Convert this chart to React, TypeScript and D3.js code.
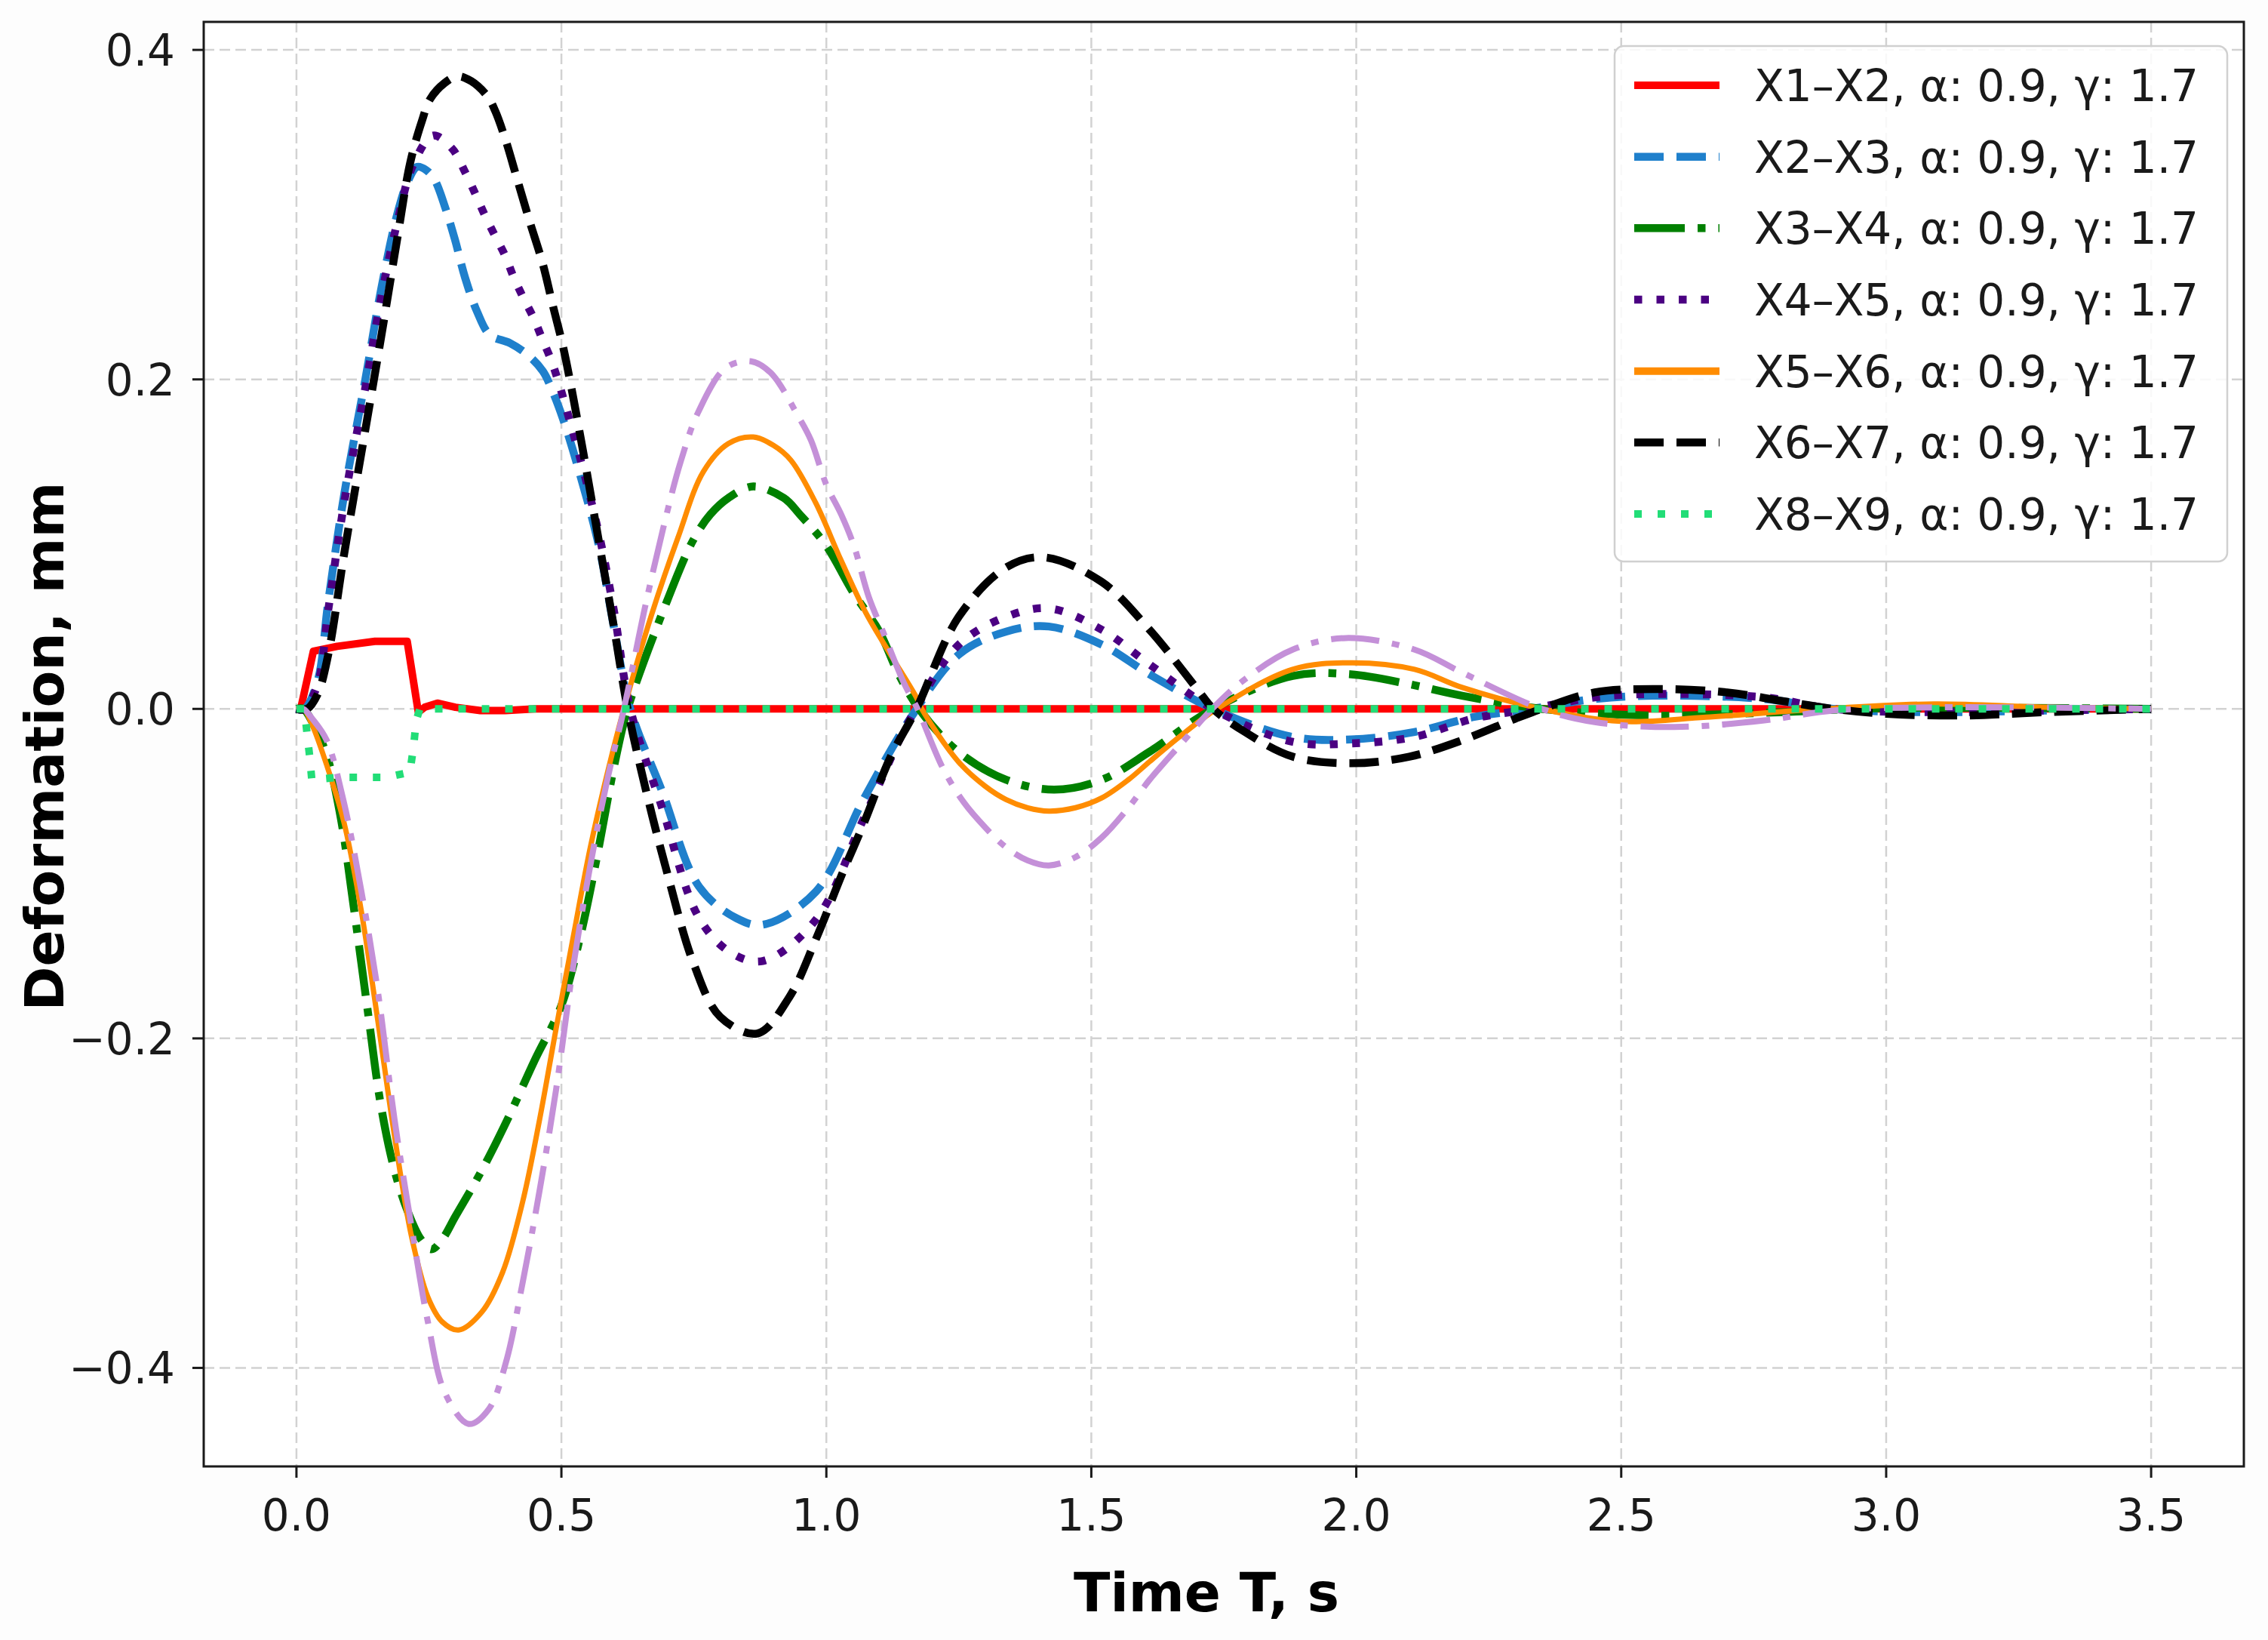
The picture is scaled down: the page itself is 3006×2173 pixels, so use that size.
import React from "react";
import * as d3 from "d3";

type Pt = [number, number];

// series: [time s, deformation mm]
const X1X2: Pt[] = [[0, 0], [0.008, 0], [0.032, 0.035], [0.077, 0.038], [0.148, 0.041], [0.209, 0.041], [0.23, -0.002], [0.242, 0.001], [0.266, 0.0035], [0.3, 0.001], [0.347, -0.001], [0.394, -0.001], [0.45, 0], [3.5, 0]];
const X2X3: Pt[] = [[0, 0], [0.015, 0], [0.04, 0.017], [0.06, 0.065], [0.09, 0.13], [0.13, 0.2], [0.16, 0.255], [0.19, 0.3], [0.21, 0.32], [0.228, 0.329], [0.245, 0.327], [0.261, 0.321], [0.28, 0.305], [0.299, 0.285], [0.318, 0.262], [0.341, 0.241], [0.365, 0.227], [0.403, 0.222], [0.436, 0.215], [0.465, 0.205], [0.483, 0.193], [0.503, 0.176], [0.53, 0.148], [0.57, 0.1], [0.6, 0.048], [0.63, 0], [0.69, -0.05], [0.76, -0.108], [0.83, -0.127], [0.88, -0.131], [0.98, -0.111], [1.07, -0.055], [1.16, -0.005], [1.25, 0.033], [1.34, 0.047], [1.42, 0.05], [1.52, 0.039], [1.61, 0.021], [1.73, 0], [1.88, -0.017], [1.99, -0.0185], [2.11, -0.014], [2.22, -0.005], [2.33, 0], [2.45, 0.006], [2.56, 0.008], [2.77, 0.006], [2.9, 0], [3.1, -0.002], [3.3, -0.001], [3.5, 0]];
const X3X4: Pt[] = [[0, 0], [0.013, 0], [0.03, -0.008], [0.057, -0.028], [0.083, -0.065], [0.108, -0.12], [0.134, -0.182], [0.159, -0.24], [0.185, -0.28], [0.21, -0.305], [0.235, -0.322], [0.255, -0.328], [0.275, -0.322], [0.3, -0.308], [0.35, -0.28], [0.4, -0.248], [0.45, -0.213], [0.5, -0.18], [0.535, -0.139], [0.567, -0.09], [0.6, -0.034], [0.625, 0], [0.7, 0.066], [0.748, 0.102], [0.781, 0.118], [0.815, 0.128], [0.862, 0.135], [0.92, 0.128], [0.95, 0.118], [1.0, 0.099], [1.05, 0.071], [1.1, 0.047], [1.135, 0.022], [1.175, 0], [1.249, -0.026], [1.339, -0.043], [1.43, -0.049], [1.52, -0.043], [1.61, -0.026], [1.73, 0], [1.88, 0.02], [1.99, 0.021], [2.1, 0.015], [2.2, 0.008], [2.35, 0], [2.55, -0.004], [2.8, -0.002], [3.0, 0.0005], [3.5, 0]];
const X4X5: Pt[] = [[0, 0], [0.015, 0], [0.04, 0.015], [0.06, 0.06], [0.09, 0.125], [0.13, 0.195], [0.16, 0.25], [0.19, 0.295], [0.22, 0.33], [0.258, 0.348], [0.294, 0.34], [0.318, 0.326], [0.337, 0.313], [0.355, 0.3], [0.375, 0.287], [0.394, 0.275], [0.41, 0.262], [0.429, 0.249], [0.448, 0.237], [0.462, 0.226], [0.479, 0.213], [0.493, 0.2], [0.52, 0.17], [0.547, 0.138], [0.575, 0.1], [0.6, 0.058], [0.63, 0], [0.69, -0.06], [0.76, -0.127], [0.82, -0.148], [0.88, -0.153], [0.98, -0.128], [1.07, -0.067], [1.16, -0.005], [1.25, 0.039], [1.34, 0.056], [1.42, 0.061], [1.52, 0.048], [1.61, 0.027], [1.73, 0], [1.88, -0.02], [1.99, -0.021], [2.11, -0.017], [2.22, -0.006], [2.33, 0], [2.45, 0.007], [2.56, 0.009], [2.77, 0.007], [2.9, 0], [3.1, -0.002], [3.3, -0.001], [3.5, 0]];
const X5X6: Pt[] = [[0, 0], [0.013, 0], [0.03, -0.01], [0.057, -0.034], [0.089, -0.068], [0.121, -0.12], [0.153, -0.188], [0.185, -0.259], [0.217, -0.32], [0.248, -0.357], [0.275, -0.372], [0.306, -0.377], [0.35, -0.366], [0.389, -0.342], [0.427, -0.299], [0.459, -0.249], [0.49, -0.194], [0.522, -0.139], [0.554, -0.085], [0.586, -0.04], [0.618, 0], [0.67, 0.057], [0.72, 0.104], [0.768, 0.144], [0.815, 0.161], [0.862, 0.165], [0.9, 0.16], [0.933, 0.151], [0.98, 0.125], [1.028, 0.09], [1.075, 0.058], [1.123, 0.032], [1.17, 0.007], [1.18, 0], [1.249, -0.032], [1.3, -0.047], [1.339, -0.055], [1.38, -0.06], [1.42, -0.062], [1.47, -0.06], [1.52, -0.054], [1.57, -0.043], [1.61, -0.032], [1.67, -0.016], [1.737, 0], [1.88, 0.024], [1.99, 0.028], [2.11, 0.024], [2.2, 0.013], [2.35, 0], [2.5, -0.0076], [2.66, -0.005], [2.88, 0], [3.09, 0.003], [3.3, 0.001], [3.5, 0]];
const X6X7: Pt[] = [[0, 0], [0.02, 0], [0.04, 0.009], [0.06, 0.033], [0.09, 0.094], [0.125, 0.16], [0.16, 0.226], [0.19, 0.285], [0.215, 0.332], [0.237, 0.357], [0.252, 0.37], [0.28, 0.38], [0.304, 0.384], [0.33, 0.381], [0.36, 0.372], [0.375, 0.363], [0.394, 0.346], [0.417, 0.321], [0.44, 0.296], [0.465, 0.27], [0.483, 0.246], [0.503, 0.22], [0.517, 0.198], [0.54, 0.158], [0.57, 0.103], [0.6, 0.048], [0.625, 0], [0.66, -0.05], [0.7, -0.1], [0.75, -0.155], [0.8, -0.187], [0.87, -0.197], [0.93, -0.175], [0.98, -0.14], [1.03, -0.1], [1.07, -0.07], [1.12, -0.03], [1.17, 0], [1.25, 0.056], [1.34, 0.086], [1.41, 0.092], [1.52, 0.077], [1.61, 0.048], [1.7, 0.012], [1.73, 0], [1.79, -0.014], [1.88, -0.029], [1.99, -0.033], [2.1, -0.029], [2.2, -0.019], [2.3, -0.006], [2.35, 0], [2.45, 0.01], [2.57, 0.012], [2.7, 0.01], [2.8, 0.005], [2.9, 0], [3.0, -0.003], [3.15, -0.004], [3.3, -0.002], [3.5, 0]];
const X7X8: Pt[] = [[0, 0], [0.013, 0], [0.03, -0.006], [0.057, -0.019], [0.089, -0.056], [0.121, -0.108], [0.153, -0.17], [0.185, -0.249], [0.217, -0.314], [0.248, -0.372], [0.28, -0.415], [0.325, -0.434], [0.363, -0.425], [0.395, -0.397], [0.427, -0.348], [0.459, -0.292], [0.49, -0.231], [0.522, -0.157], [0.554, -0.096], [0.586, -0.044], [0.618, 0], [0.66, 0.065], [0.7, 0.12], [0.725, 0.15], [0.758, 0.18], [0.81, 0.207], [0.858, 0.211], [0.895, 0.204], [0.948, 0.177], [0.971, 0.163], [1.0, 0.136], [1.028, 0.118], [1.052, 0.099], [1.08, 0.068], [1.108, 0.046], [1.146, 0.016], [1.172, 0], [1.22, -0.036], [1.26, -0.057], [1.3, -0.072], [1.339, -0.084], [1.38, -0.092], [1.42, -0.095], [1.47, -0.09], [1.52, -0.078], [1.57, -0.06], [1.61, -0.043], [1.67, -0.021], [1.728, 0], [1.79, 0.018], [1.88, 0.036], [1.98, 0.043], [2.11, 0.036], [2.2, 0.022], [2.35, 0], [2.45, -0.008], [2.6, -0.011], [2.77, -0.007], [2.9, -0.001], [3.1, 0.001], [3.5, 0]];
const X8X9: Pt[] = [[0, 0], [0.015, 0], [0.02, -0.015], [0.025, -0.029], [0.029, -0.043], [0.08, -0.0415], [0.17, -0.0415], [0.214, -0.0385], [0.221, -0.023], [0.226, -0.007], [0.233, 0], [3.5, 0]];

const LABELS = ["X1–X2", "X2–X3", "X3–X4", "X4–X5", "X5–X6", "X6–X7", "X7–X8", "X8–X9"];
const PARAMS = ", α: 0.9, γ: 1.7";
const X_TICKS = [0, 0.5, 1.0, 1.5, 2.0, 2.5, 3.0, 3.5];
const Y_TICKS = [-0.4, -0.2, 0, 0.2, 0.4];

type Style = { color: string; width: number; dash: string; smooth: boolean; legend: boolean; legendWidth?: number };
const STYLES: Style[] = [
  { color: "#ff0000", width: 10, dash: "", smooth: false, legend: true },
  { color: "#1f80cc", width: 10.5, dash: "39 17", smooth: true, legend: true },
  { color: "#008000", width: 10.5, dash: "67 17 10.5 17", smooth: true, legend: true },
  { color: "#4b0082", width: 10.5, dash: "10.5 19", smooth: true, legend: true },
  { color: "#ff8c00", width: 7, dash: "", smooth: true, legend: true, legendWidth: 10 },
  { color: "#000000", width: 10.5, dash: "39 17", smooth: true, legend: true },
  { color: "#c490d8", width: 8, dash: "64 17 10 17", smooth: true, legend: false },
  { color: "#22dd77", width: 10, dash: "10 21", smooth: false, legend: true },
];
const SERIES = [X1X2, X2X3, X3X4, X4X5, X5X6, X6X7, X7X8, X8X9];

const W = 3006;
const H = 2173;
const FONT = "DejaVu Sans";

export default function App() {
  const x = d3.scaleLinear().domain([-0.175, 3.675]).range([270, 2974]);
  const y = d3.scaleLinear().domain([-0.4598, 0.417]).range([1943, 29]);
  const [x0, x1] = x.range();
  const [y0, y1] = y.range();

  const smoothLine = d3.line<Pt>().x((d) => x(d[0])).y((d) => y(d[1])).curve(d3.curveCatmullRom.alpha(0.5));
  const straightLine = d3.line<Pt>().x((d) => x(d[0])).y((d) => y(d[1]));
  const fmt = (v: number) => d3.format(".1f")(v).replace("-", "\u2212");

  const legendItems = STYLES.map((s, i) => ({ s, label: LABELS[i] + PARAMS })).filter((d) => d.s.legend);
  const legendRow = d3.scaleLinear().domain([0, legendItems.length - 1]).range([113, 681]);

  return (
    <svg width={W} height={H} style={{ position: "absolute", left: 0, top: 0, background: "#fff" }} fontFamily={FONT}>
      <defs>
        <clipPath id="plot">
          <rect x={x0} y={y1} width={x1 - x0} height={y0 - y1} />
        </clipPath>
      </defs>
      <rect width={W} height={H} fill="#fdfdfd" />
      <rect x={x0} y={y1} width={x1 - x0} height={y0 - y1} fill="#fff" />
      {/* grid */}
      <g stroke="#d2d2d2" strokeWidth={2.5} strokeDasharray="14 7">
        {X_TICKS.map((t) => (
          <line key={`gx${t}`} x1={x(t)} x2={x(t)} y1={y1} y2={y0} />
        ))}
        {Y_TICKS.map((t) => (
          <line key={`gy${t}`} x1={x0} x2={x1} y1={y(t)} y2={y(t)} />
        ))}
      </g>
      {/* series */}
      <g clipPath="url(#plot)" fill="none" strokeLinejoin="round">
        {SERIES.map((data, i) => {
          const s = STYLES[i];
          return (
            <path
              key={LABELS[i]}
              d={(s.smooth ? smoothLine(data) : straightLine(data)) ?? undefined}
              stroke={s.color}
              strokeWidth={s.width}
              strokeDasharray={s.dash || undefined}
            />
          );
        })}
      </g>
      {/* spines */}
      <rect x={x0} y={y1} width={x1 - x0} height={y0 - y1} fill="none" stroke="#1a1a1a" strokeWidth={3} />
      {/* x axis */}
      <g fontSize={58} fill="#1a1a1a" textAnchor="middle">
        {X_TICKS.map((t) => (
          <g key={`tx${t}`}>
            <line x1={x(t)} x2={x(t)} y1={y0} y2={y0 + 15} stroke="#1a1a1a" strokeWidth={3} />
            <text x={x(t)} y={2028}>{fmt(t)}</text>
          </g>
        ))}
      </g>
      {/* y axis */}
      <g fontSize={58} fill="#1a1a1a" textAnchor="end">
        {Y_TICKS.map((t) => (
          <g key={`ty${t}`}>
            <line x1={x0 - 15} x2={x0} y1={y(t)} y2={y(t)} stroke="#1a1a1a" strokeWidth={3} />
            <text x={232} y={y(t)} dy="0.36em">{fmt(t)}</text>
          </g>
        ))}
      </g>
      <text x={1599} y={2135} fontSize={71} fontWeight="bold" textAnchor="middle" fill="#000">Time T, s</text>
      <text transform="translate(84,989) rotate(-90)" fontSize={71} fontWeight="bold" textAnchor="middle" fill="#000">
        Deformation, mm
      </text>
      {/* legend */}
      <g>
        <rect x={2140} y={61} width={812} height={683} rx={12} fill="#fff" fillOpacity={0.85} stroke="#d0d0d0" strokeWidth={2.5} />
        {legendItems.map((d, i) => (
          <g key={d.label}>
            <line
              x1={2166}
              x2={2279}
              y1={legendRow(i)}
              y2={legendRow(i)}
              stroke={d.s.color}
              strokeWidth={d.s.legendWidth ?? d.s.width}
              strokeDasharray={d.s.dash || undefined}
            />
            <text x={2325} y={legendRow(i)} dy="0.36em" fontSize={58} fill="#1a1a1a">{d.label}</text>
          </g>
        ))}
      </g>
    </svg>
  );
}
